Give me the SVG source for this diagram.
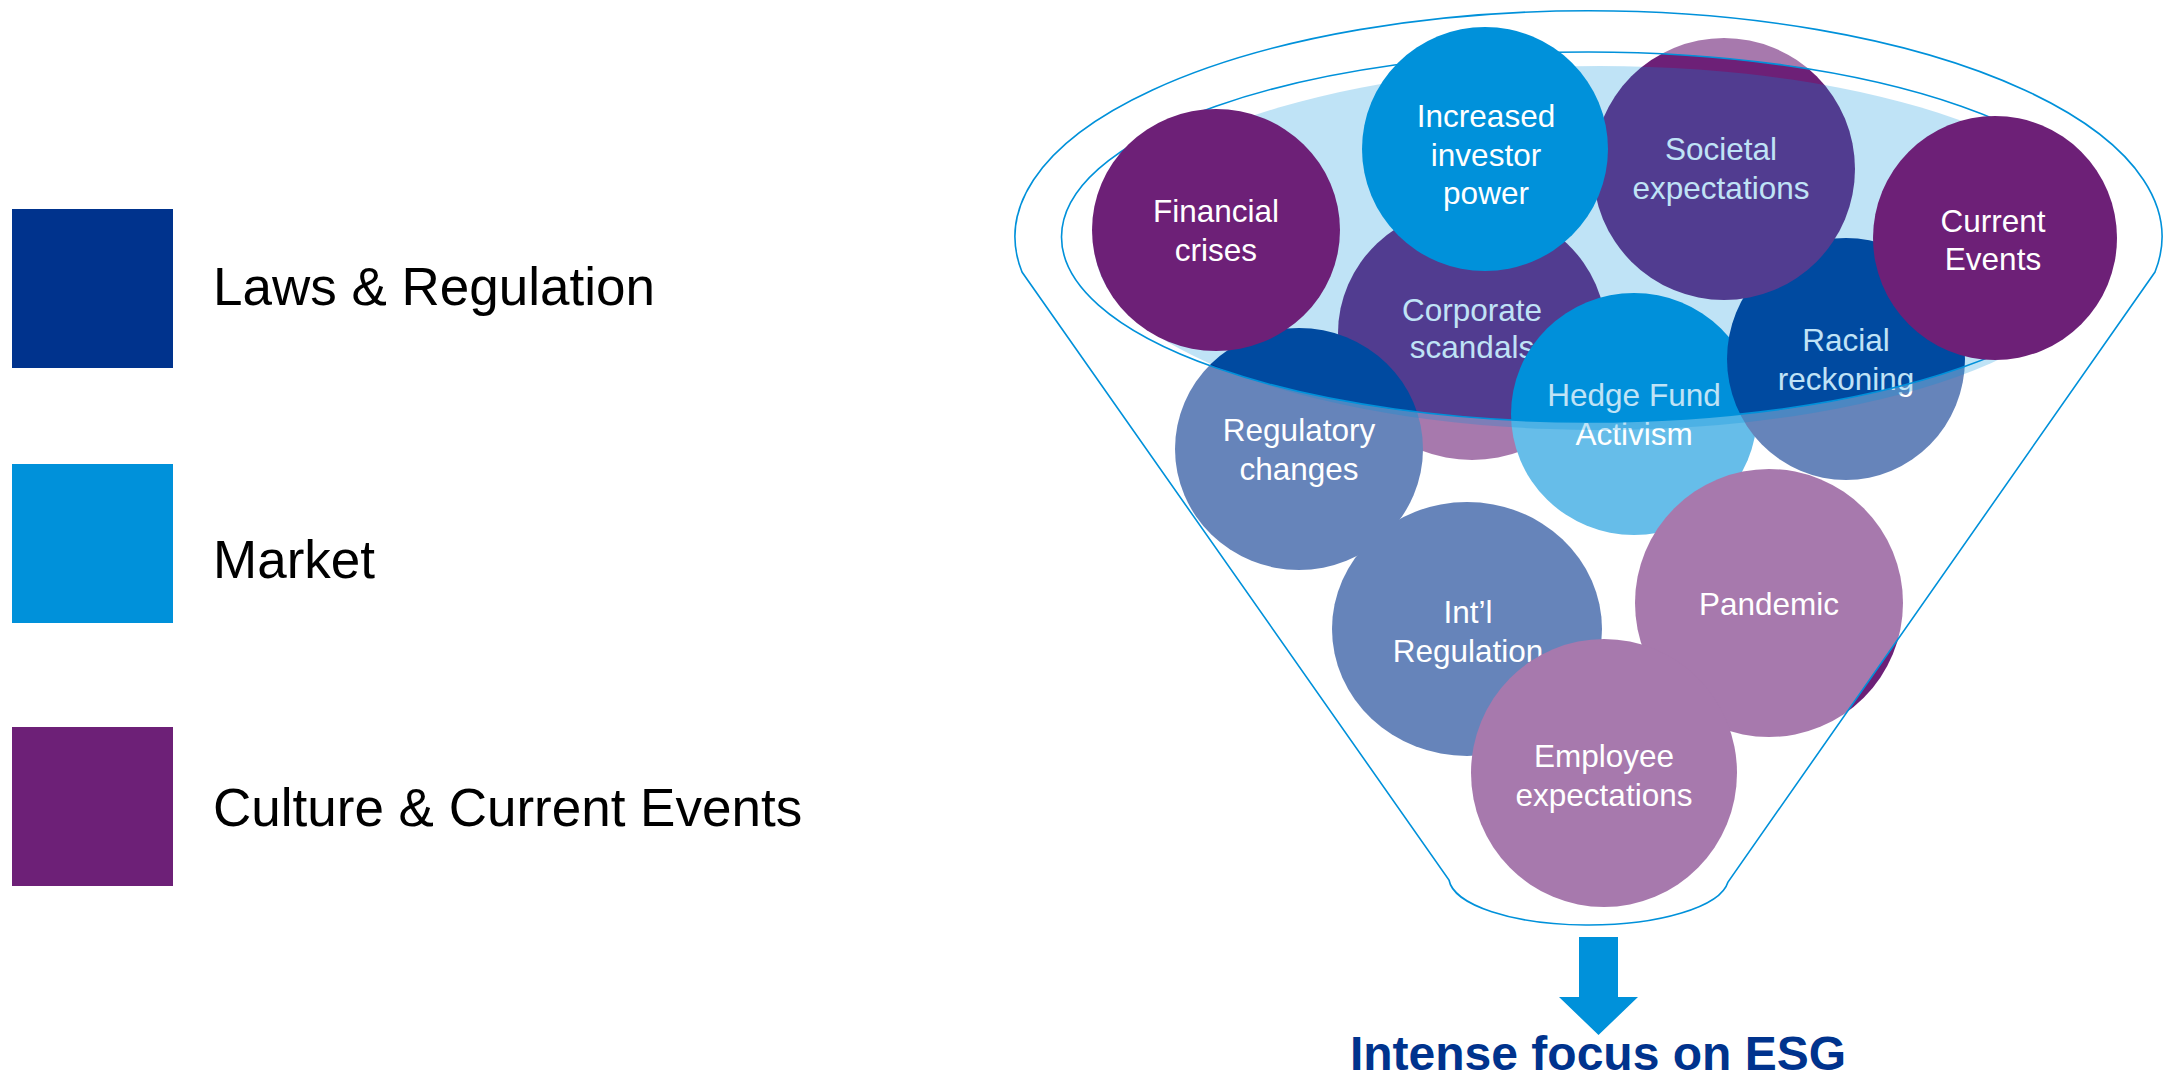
<svg xmlns="http://www.w3.org/2000/svg" width="2167" height="1074" viewBox="0 0 2167 1074">
  <style>
    .navy { fill: #00338D; }
    .blue { fill: #0091DA; }
    .purple { fill: #6D2077; }
    .ctext { font-family: "Liberation Sans", Arial, sans-serif; font-size: 31.5px; fill: #FFFFFF; text-anchor: middle; }
    .legend { font-family: "Liberation Sans", Arial, sans-serif; font-size: 53px; fill: #000000; }
    .title { font-family: "Liberation Sans", Arial, sans-serif; font-size: 48px; font-weight: bold; fill: #00338D; text-anchor: middle; }
    .line { fill: none; stroke: #0091DA; stroke-width: 1.6; }
  </style>
  <rect width="2167" height="1074" fill="#FFFFFF"/>

  <!-- Legend -->
  <g id="legend-laws">
    <rect class="navy" x="12" y="209" width="161" height="159"/>
    <text class="legend" x="213" y="305">Laws &amp; Regulation</text>
  </g>
  <g id="legend-market">
    <rect class="blue" x="12" y="464" width="161" height="159"/>
    <text class="legend" x="213" y="578">Market</text>
  </g>
  <g id="legend-culture">
    <rect class="purple" x="12" y="727" width="161" height="159"/>
    <text class="legend" x="213" y="826">Culture &amp; Current Events</text>
  </g>

  <!-- Circles beneath the funnel overlay -->
  <g id="corporate-scandals">
    <ellipse class="purple" cx="1472" cy="333" rx="134" ry="127"/>
    <text class="ctext" x="1472" y="321">Corporate</text>
    <text class="ctext" x="1472" y="358">scandals</text>
  </g>
  <g id="regulatory-changes">
    <ellipse class="navy" cx="1299" cy="449" rx="124" ry="121"/>
    <text class="ctext" x="1299" y="441">Regulatory</text>
    <text class="ctext" x="1299" y="480">changes</text>
  </g>
  <g id="intl-regulation">
    <ellipse class="navy" cx="1467" cy="629" rx="135" ry="127"/>
    <text class="ctext" x="1468" y="623">Int’l</text>
    <text class="ctext" x="1468" y="662">Regulation</text>
  </g>
  <g id="hedge-fund-activism">
    <ellipse class="blue" cx="1634" cy="414" rx="123" ry="121"/>
    <text class="ctext" x="1634" y="406">Hedge Fund</text>
    <text class="ctext" x="1634" y="445">Activism</text>
  </g>
  <g id="racial-reckoning">
    <ellipse class="navy" cx="1846" cy="359" rx="119" ry="121"/>
    <text class="ctext" x="1846" y="351">Racial</text>
    <text class="ctext" x="1846" y="390">reckoning</text>
  </g>
  <g id="societal-expectations">
    <ellipse class="purple" cx="1724" cy="169" rx="131" ry="131"/>
    <text class="ctext" x="1721" y="160">Societal</text>
    <text class="ctext" x="1721" y="199">expectations</text>
  </g>
  <g id="pandemic">
    <ellipse class="purple" cx="1769" cy="603" rx="134" ry="134"/>
    <text class="ctext" x="1769" y="615">Pandemic</text>
  </g>
  <g id="employee-expectations">
    <ellipse class="purple" cx="1604" cy="773" rx="133" ry="134"/>
    <text class="ctext" x="1604" y="767">Employee</text>
    <text class="ctext" x="1604" y="806">expectations</text>
  </g>

  <!-- Funnel -->
  <g id="funnel">
    <path d="M1022,272 A573.5,226 0 1 1 2155,272 L1728,882 A140,48 0 0 1 1449,880 Z M1061.5,237 A527,185 0 1 0 2115.5,237 A527,185 0 1 0 1061.5,237 Z" fill="#FFFFFF" fill-opacity="0.4" fill-rule="evenodd"/>
    <ellipse cx="1600" cy="248" rx="505" ry="182" fill="#0091DA" fill-opacity="0.25"/>
    <path class="line" d="M1022,272 A573.5,226 0 1 1 2155,272 L1728,882 A140,48 0 0 1 1449,880 Z"/>
    <ellipse class="line" cx="1588.5" cy="237" rx="527" ry="185"/>
  </g>

  <!-- Circles above the funnel overlay -->
  <g id="financial-crises">
    <ellipse class="purple" cx="1216" cy="230" rx="124" ry="121"/>
    <text class="ctext" x="1216" y="222">Financial</text>
    <text class="ctext" x="1216" y="261">crises</text>
  </g>
  <g id="increased-investor-power">
    <ellipse class="blue" cx="1485" cy="149" rx="123" ry="122"/>
    <text class="ctext" x="1486" y="127">Increased</text>
    <text class="ctext" x="1486" y="166">investor</text>
    <text class="ctext" x="1486" y="204">power</text>
  </g>
  <g id="current-events">
    <ellipse class="purple" cx="1995" cy="238" rx="122" ry="122"/>
    <text class="ctext" x="1993" y="232">Current</text>
    <text class="ctext" x="1993" y="270">Events</text>
  </g>

  <!-- Connector: output arrow -->
  <g id="connectors">
    <polygon class="blue" points="1579,937 1618,937 1618,997 1638,997 1598.5,1035 1559,997 1579,997"/>
  </g>

  <g id="result">
    <text class="title" x="1598" y="1070">Intense focus on ESG</text>
  </g>
</svg>
